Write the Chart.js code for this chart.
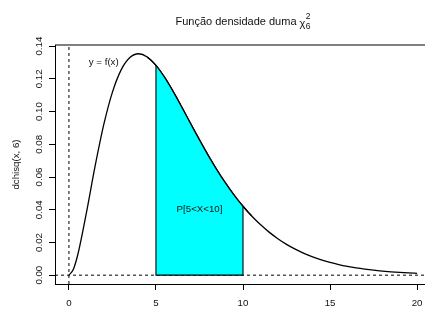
<!DOCTYPE html>
<html><head><meta charset="utf-8">
<script src="https://cdn.jsdelivr.net/npm/chart.js@4"></script>
<style>
html,body{margin:0;padding:0;background:#fff;width:425px;height:323px;overflow:hidden}
#wrap{position:relative;width:440px;height:340px}
</style></head><body>
<div id="wrap"><canvas id="c" width="440" height="340"></canvas></div>
<script>
// Data (chi-square density, 6 d.f.)
const xValues = [0,0.25,0.5,1,1.5,2,2.5,3,3.5,4,4.5,5,5.5,6,6.5,7,7.5,8,8.5,9,9.5,10,10.5,11,11.5,12,12.5,13,13.5,14,14.5,15,15.5,16,16.5,17,17.5,18,18.5,19,19.5,20];
const densityValues = [0,0.00345,0.01217,0.03791,0.06643,0.09197,0.11191,0.12551,0.13304,0.13534,0.13339,0.12825,0.12086,0.11201,0.10239,0.09248,0.08268,0.07326,0.06441,0.05624,0.04880,0.04211,0.03616,0.03091,0.02631,0.02231,0.01885,0.01588,0.01334,0.01117,0.00933,0.00778,0.00647,0.00537,0.00445,0.00368,0.00303,0.00250,0.00206,0.00169,0.00139,0.00113];
const xTickValues = [0,5,10,15,20];
const yTickValues = [0,0.02,0.04,0.06,0.08,0.10,0.12,0.14];
const yTickLabels = ['0.00','0.02','0.04','0.06','0.08','0.10','0.12','0.14'];
const shadeRange = [5,10];
const annotationTexts = ['y = f(x)','P[5<X<10]'];
const annotationX = [2,7.5];
const annotationY = [0.13,0.04];
const xLimits = [-0.8,20.8];
const yLimits = [-0.0054,0.1407];
const titleMain = 'Função densidade duma ';
const titleSymbol = 'χ';
const titleSup = '2';
const titleSub = '6';
const yAxisTitle = 'dchisq(x, 6)';
const xAxisTitle = 'x';

const FONT = '"Liberation Sans", Arial, Helvetica, sans-serif';
const TXT = '#111';
const curvePts = xValues.map((x,i)=>({x:x,y:densityValues[i]}));
const shadePts = curvePts.filter(p=>p.x>=shadeRange[0]&&p.x<=shadeRange[1]);
const fA = shadePts[0].y, fB = shadePts[shadePts.length-1].y;
const shadeBorder = [{x:shadeRange[0],y:fA},{x:shadeRange[0],y:0},{x:shadeRange[1],y:0},{x:shadeRange[1],y:fB}];

const decor = {
  id:'decor',
  afterDatasetsDraw(chart){
    const ctx=chart.ctx, a=chart.chartArea, xs=chart.scales.x, ys=chart.scales.y;
    ctx.save();
    ctx.fillStyle=TXT;
    ctx.font='9.7px '+FONT;
    ctx.textAlign='center'; ctx.textBaseline='middle';
    annotationTexts.forEach((t,i)=>ctx.fillText(t, xs.getPixelForValue(annotationX[i]), ys.getPixelForValue(annotationY[i])));
    // box
    ctx.strokeStyle='#000'; ctx.lineWidth=1;
    ctx.beginPath();
    ctx.moveTo(a.left, a.top); ctx.lineTo(a.right, a.top); ctx.lineTo(a.right, a.bottom);
    ctx.stroke();
    // title
    const cx=(a.left+a.right)/2, by=25;
    ctx.font='11px '+FONT;
    const w1=ctx.measureText(titleMain).width;
    const w2=ctx.measureText(titleSymbol).width;
    ctx.font='8.5px '+FONT;
    const w3=ctx.measureText(titleSup).width;
    const total=w1+w2+w3+0.5;
    let x0=cx-total/2;
    ctx.textAlign='left'; ctx.textBaseline='alphabetic';
    ctx.font='11px '+FONT;
    ctx.fillText(titleMain,x0,by);
    ctx.fillText(titleSymbol,x0+w1,by+1.5);
    ctx.font='8.5px '+FONT;
    ctx.fillText(titleSup,x0+w1+w2+0.5,by-6);
    ctx.fillText(titleSub,x0+w1+w2+0.5,by+4);
    ctx.restore();
  }
};

new Chart(document.getElementById('c'),{
  type:'line',
  data:{datasets:[
    {data:curvePts,borderColor:'#000',borderWidth:1.3,pointRadius:0,cubicInterpolationMode:'monotone',fill:false,order:5},
    {data:[{x:0,y:yLimits[0]},{x:0,y:yLimits[1]}],borderColor:'#000',borderWidth:1,borderDash:[3,3],pointRadius:0,fill:false,order:4},
    {data:[{x:xLimits[0],y:0},{x:xLimits[1],y:0}],borderColor:'#000',borderWidth:1,borderDash:[3,3],pointRadius:0,fill:false,order:4},
    {data:shadePts,borderColor:'rgba(0,0,0,0)',borderWidth:0,backgroundColor:'#00FFFF',pointRadius:0,cubicInterpolationMode:'monotone',fill:'origin',order:3},
    {data:shadeBorder,borderColor:'#000',borderWidth:1.1,pointRadius:0,tension:0,fill:false,order:2},
    {data:curvePts.filter(p=>p.x>=shadeRange[0]-0.5&&p.x<=shadeRange[1]+0.5),borderColor:'#000',borderWidth:1.3,pointRadius:0,cubicInterpolationMode:'monotone',fill:false,order:1}
  ]},
  options:{
    responsive:false, animation:false, devicePixelRatio:1,
    layout:{padding:{top:45,right:9,left:0,bottom:0}},
    plugins:{legend:{display:false},tooltip:{enabled:false},title:{display:false}},
    scales:{
      x:{type:'linear',min:xLimits[0],max:xLimits[1],
        afterBuildTicks:s=>{s.ticks=xTickValues.map(v=>({value:v}));},
        afterFit:s=>{s.height=56;},
        ticks:{color:TXT,font:{family:FONT,size:9.7},padding:8,maxRotation:0,minRotation:0,callback:v=>String(v)},
        grid:{drawOnChartArea:false,drawTicks:true,tickLength:6,color:'#000',lineWidth:1},
        border:{display:true,color:'#000',width:1},
        title:{display:true,text:xAxisTitle,color:TXT,font:{family:FONT,size:9.7},padding:{top:0,bottom:9}}
      },
      y:{type:'linear',min:yLimits[0],max:yLimits[1],
        afterBuildTicks:s=>{s.ticks=yTickValues.map(v=>({value:v}));},
        afterFit:s=>{s.width=55;},
        ticks:{color:TXT,font:{family:FONT,size:9.7},padding:0.5,minRotation:90,maxRotation:90,crossAlign:'center',
          callback:(v)=>{const i=yTickValues.findIndex(t=>Math.abs(t-v)<1e-9);return i>=0?yTickLabels[i]:'';}},
        grid:{drawOnChartArea:false,drawTicks:true,tickLength:6,color:'#000',lineWidth:1},
        border:{display:true,color:'#000',width:1},
        title:{display:true,text:yAxisTitle,color:TXT,font:{family:FONT,size:9.7},padding:{top:11,bottom:0}}
      }
    }
  },
  plugins:[decor]
});
</script>
</body></html>
